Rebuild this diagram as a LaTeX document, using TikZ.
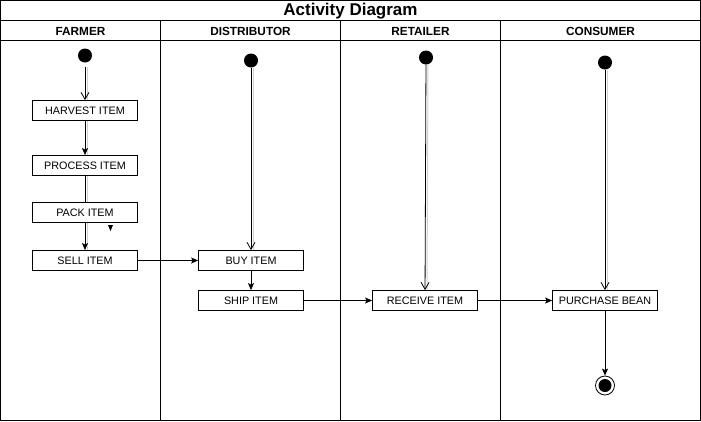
\documentclass[tikz,border=0pt]{standalone}
\usepackage{fontspec}
\setmainfont{Liberation Sans}
\usetikzlibrary{arrows.meta}

\tikzset{
  activity/.style={draw, line width=0.8pt, minimum width=105pt, minimum height=20pt, inner sep=0pt, font=\fontsize{10.8}{12}\selectfont},
  lanehead/.style={font=\bfseries\fontsize{11.8}{13}\selectfont},
  startdot/.style={circle, fill=black, minimum size=14pt, inner sep=0pt},
  flow/.style={line width=0.8pt, -{Stealth[length=7pt,width=6pt,inset=1.5pt]}},
  openflow/.style={line width=0.8pt, -{Straight Barb[length=7pt,width=8pt]}},
  shadowline/.style={draw=gray!35, line width=1pt}
}

\begin{document}
\begin{tikzpicture}[x=1pt,y=-1pt]
\useasboundingbox (-0.5,-0.5) rectangle (700.5,420.5);
% swimlane frame
\draw[line width=0.8pt] (0,0) rectangle (700,420);
\draw[line width=0.8pt] (0,20) -- (700,20);
\draw[line width=0.8pt] (0,40) -- (700,40);
\foreach \x in {160,340,500}
  \draw[line width=0.8pt] (\x,20) -- (\x,420);
\node[font=\bfseries\fontsize{17}{19}\selectfont] (title) at (350,11) {Activity Diagram};
\node[lanehead] (hfarmer) at (80,30.5) {FARMER};
\node[lanehead] (hdistributor) at (250,30.5) {DISTRIBUTOR};
\node[lanehead] (hretailer) at (420,30.5) {RETAILER};
\node[lanehead] (hconsumer) at (600,30.5) {CONSUMER};

% start points
\node[startdot] (sfarmer) at (84.5,55) {};
\node[startdot] (sdistributor) at (250.5,60) {};
\node[startdot] (sretailer) at (425.5,57) {};
\node[startdot] (sconsumer) at (604.5,62) {};

% activities
\node[activity] (harvest) at (84.5,110) {HARVEST ITEM};
\node[activity] (process) at (84.5,165) {PROCESS ITEM};
\node[activity] (pack) at (84.5,212) {PACK ITEM};
\node[activity] (sell) at (84.5,260) {SELL ITEM};
\node[activity] (buy) at (250.5,260) {BUY ITEM};
\node[activity] (ship) at (250.5,300) {SHIP ITEM};
\node[activity] (receive) at (424.5,300) {RECEIVE ITEM};
\node[activity] (purchase) at (604.5,300) {PURCHASE BEAN};

% end point
\node[circle, draw, line width=0.8pt, minimum size=19pt, inner sep=0pt] (finish) at (604.5,385) {};
\fill (finish) circle (6.5pt);

% shadows
\draw[shadowline] ([xshift=2pt,yshift=-4pt]sfarmer.south) -- ([xshift=2pt]harvest.north);
\draw[shadowline] ([xshift=2pt]harvest.south) -- ([xshift=2pt]process.north);
\draw[shadowline] ([xshift=2pt]process.south) -- ([xshift=2pt]pack.north);
\draw[shadowline] ([xshift=2pt]pack.south) -- ([xshift=2pt]sell.north);
\draw[shadowline] ([xshift=2pt]sdistributor.south) -- ([xshift=2pt]buy.north);
\draw[shadowline] ([xshift=2pt]sretailer.south) -- ([xshift=2pt]receive.north);
\draw[shadowline] ([xshift=2pt]sconsumer.south) -- ([xshift=2pt]purchase.north);

% flows
\draw[openflow] ([yshift=-4pt]sfarmer.south) -- (harvest.north);
\draw[flow] (harvest) -- (process);
\draw[line width=0.8pt] (process) -- (pack);
\draw[flow] (pack) -- (sell);
\fill (107.5,224.5) -- (112.5,224.5) -- (110,230.5) -- cycle;
\draw[openflow] (sdistributor) -- (buy);
\draw[openflow] (sretailer) -- (receive);
\draw[openflow] (sconsumer) -- (purchase);
\draw[flow] (sell) -- (buy);
\draw[flow] (buy) -- (ship);
\draw[flow] (ship) -- (receive);
\draw[flow] (receive) -- (purchase);
\draw[flow] (purchase) -- (finish);
\end{tikzpicture}
\end{document}
